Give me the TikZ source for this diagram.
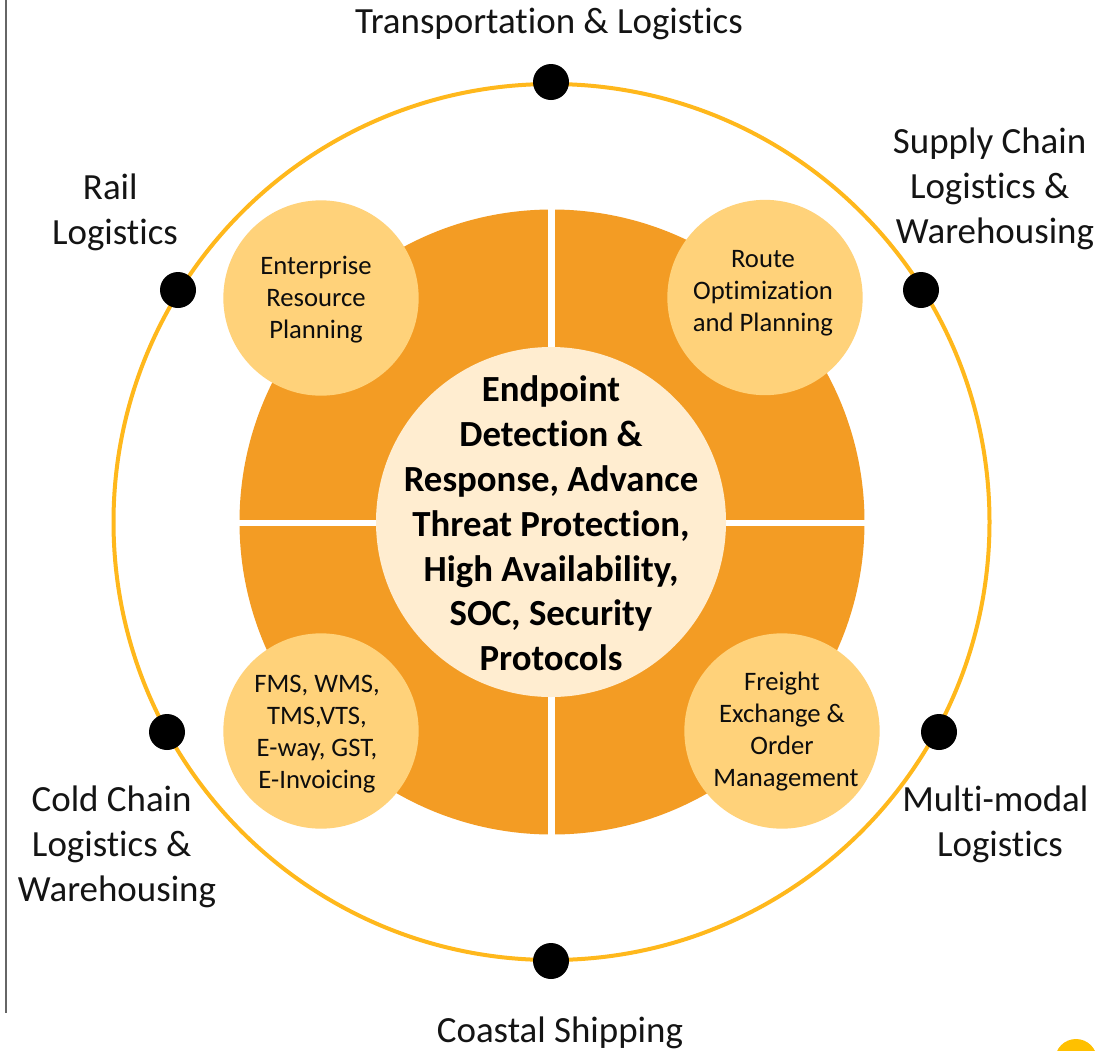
\documentclass[tikz,border=0pt]{standalone}
\usepackage{fontspec}
\setmainfont{Carlito}[RawFeature=-liga]
\definecolor{ringc}{HTML}{FFB81C}
\definecolor{cornerc}{HTML}{FFC000}
\definecolor{quad}{HTML}{F39C24}
\definecolor{bub}{HTML}{FFD27A}
\definecolor{core}{HTML}{FFEDD0}
\newcommand{\tr}[1]{\rule{#1}{0pt}}
\tikzset{
  x=0.75pt,y=-0.75pt,
  outer label/.style={font=\fontsize{27.7}{33.7}\selectfont,align=center,inner sep=0pt,text=black!92},
  bubble/.style={circle,fill=bub,minimum size=146.5pt,inner sep=0pt},
  bubble text/.style={align=center,inner sep=0pt,font=\fontsize{20}{24}\selectfont,text=black!95},
  dot/.style={circle,fill=black,minimum size=27pt,inner sep=0pt},
  core disc/.style={circle,fill=core,minimum size=262.5pt,inner sep=0pt},
  core text/.style={align=center,inner sep=0pt,font=\fontsize{27.6}{33.6}\selectfont\bfseries}
}
\begin{document}
\begin{tikzpicture}
\useasboundingbox (0,0) rectangle (1106,1050);
\fill[white] (0,0) rectangle (1106,1050);
\draw[black!60,line width=1pt] (6,0) -- (6,1013);
\fill[cornerc] (1076,1060) circle (21);
\draw[ringc,line width=3pt] (551.5,522) circle (438);
\fill[quad] (552,522) circle (312.5);
\fill[white] (548,200) rectangle (555,840);
\fill[white] (230,520) rectangle (870,526);
\node[core disc] (core) at (551,522) {};
\node[core text] (coret) at (551,523.5) {Endpoint\\Detection \&\\Response, Advance\\Threat Protection,\\High Availability,\\SOC, Security\\Protocols};
\node[bubble] (b1) at (321,298) {};
\node[bubble] (b2) at (765,297.5) {};
\node[bubble] (b3) at (321,731) {};
\node[bubble] (b4) at (782,731) {};
\node[bubble text] (t1) at (316,300) {Enterprise\\Resource\\Planning};
\node[bubble text] (t2) at (763,293) {Route\\Optimization\\and Planning};
\node[bubble text] (t3) at (317,734) {FMS, WMS,\\TMS,VTS,\\E-way, GST,\\E-Invoicing};
\node[bubble text] (t4) at (786,732) {Freight\tr{6pt}\\Exchange \&\tr{6pt}\\Order\tr{6pt}\\Management};
\node[dot] (d1) at (551,82) {};
\node[dot] (d2) at (921,290) {};
\node[dot] (d3) at (939,732) {};
\node[dot] (d4) at (551,961) {};
\node[dot] (d5) at (167,732) {};
\node[dot] (d6) at (178,290) {};
\node[outer label] (l1) at (549,24) {Transportation \& Logistics};
\node[outer label] (l2) at (995,189) {Supply Chain\tr{8pt}\\Logistics \&\tr{8pt}\\Warehousing};
\node[outer label] (l3) at (1000,824) {Multi-modal\tr{7pt}\\Logistics};
\node[outer label] (l4) at (560,1033) {Coastal Shipping};
\node[outer label] (l5) at (117,847) {Cold Chain\tr{8pt}\\Logistics \&\tr{8pt}\\Warehousing};
\node[outer label] (l6) at (115,212) {Rail\tr{7pt}\\Logistics};
\end{tikzpicture}
\end{document}
